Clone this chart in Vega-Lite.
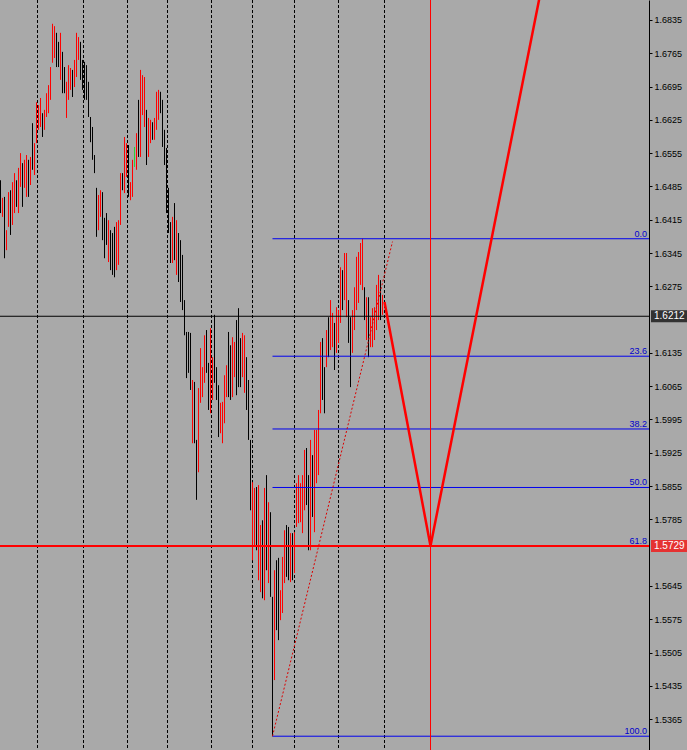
{
"$schema": "https://vega.github.io/schema/vega-lite/v6.json",
"width": 649, "height": 750,
"autosize": {"type": "none"},
"padding": {"left": 0, "top": 0, "right": 38, "bottom": 0},
"background": "#a9a9a9",
"config": {"view": {"stroke": null}, "font": "Liberation Sans", "axis": {"labelOverlap": false, "labelSeparation": 0}},
"resolve": {"scale": {"color": "independent", "strokeWidth": "independent"}, "axis": {"y": "independent", "x": "independent"}},
"datasets": {
"bars": [
{"i":0,"h":1.6498,"l":1.6429,"d":"dn"},{"i":1,"h":1.6461,"l":1.6421,"d":"up"},{"i":2,"h":1.6463,"l":1.6334,"d":"dn"},{"i":3,"h":1.6393,"l":1.6351,"d":"up"},{"i":4,"h":1.6473,"l":1.6400,"d":"up"},{"i":5,"h":1.6477,"l":1.6383,"d":"dn"},{"i":6,"h":1.6494,"l":1.6404,"d":"up"},{"i":7,"h":1.6513,"l":1.6429,"d":"up"},{"i":8,"h":1.6498,"l":1.6442,"d":"dn"},{"i":9,"h":1.6524,"l":1.6429,"d":"up"},
{"i":10,"h":1.6555,"l":1.6484,"d":"up"},{"i":11,"h":1.6534,"l":1.6442,"d":"dn"},{"i":12,"h":1.6541,"l":1.6482,"d":"up"},{"i":13,"h":1.6551,"l":1.6463,"d":"up"},{"i":14,"h":1.6541,"l":1.6463,"d":"dn"},{"i":15,"h":1.6547,"l":1.6488,"d":"up"},{"i":16,"h":1.6618,"l":1.6520,"d":"dn"},{"i":17,"h":1.6576,"l":1.6509,"d":"up"},{"i":18,"h":1.6662,"l":1.6576,"d":"up"},{"i":19,"h":1.6656,"l":1.6604,"d":"up"},
{"i":20,"h":1.6671,"l":1.6610,"d":"up"},{"i":21,"h":1.6639,"l":1.6589,"d":"dn"},{"i":22,"h":1.6646,"l":1.6604,"d":"up"},{"i":23,"h":1.6681,"l":1.6631,"d":"up"},{"i":24,"h":1.6698,"l":1.6639,"d":"up"},{"i":25,"h":1.6736,"l":1.6667,"d":"up"},{"i":26,"h":1.6827,"l":1.6745,"d":"up"},{"i":27,"h":1.6822,"l":1.6755,"d":"up"},{"i":28,"h":1.6808,"l":1.6736,"d":"dn"},{"i":29,"h":1.6789,"l":1.6736,"d":"dn"},
{"i":30,"h":1.6808,"l":1.6709,"d":"up"},{"i":31,"h":1.6768,"l":1.6681,"d":"dn"},{"i":32,"h":1.6736,"l":1.6681,"d":"dn"},{"i":33,"h":1.6705,"l":1.6629,"d":"up"},{"i":34,"h":1.6740,"l":1.6667,"d":"up"},{"i":35,"h":1.6734,"l":1.6688,"d":"up"},{"i":36,"h":1.6730,"l":1.6673,"d":"dn"},{"i":37,"h":1.6751,"l":1.6694,"d":"up"},{"i":38,"h":1.6808,"l":1.6715,"d":"up"},{"i":39,"h":1.6799,"l":1.6751,"d":"up"},
{"i":40,"h":1.6789,"l":1.6709,"d":"dn"},{"i":41,"h":1.6751,"l":1.6688,"d":"dn"},{"i":42,"h":1.6747,"l":1.6667,"d":"dn"},{"i":43,"h":1.6740,"l":1.6667,"d":"dn"},{"i":44,"h":1.6705,"l":1.6631,"d":"dn"},{"i":45,"h":1.6631,"l":1.6578,"d":"dn"},{"i":46,"h":1.6610,"l":1.6541,"d":"dn"},{"i":47,"h":1.6551,"l":1.6513,"d":"dn"},{"i":48,"h":1.6482,"l":1.6379,"d":"dn"},{"i":49,"h":1.6467,"l":1.6393,"d":"up"},
{"i":50,"h":1.6477,"l":1.6421,"d":"up"},{"i":51,"h":1.6473,"l":1.6372,"d":"dn"},{"i":52,"h":1.6419,"l":1.6334,"d":"dn"},{"i":53,"h":1.6429,"l":1.6362,"d":"dn"},{"i":54,"h":1.6414,"l":1.6326,"d":"up"},{"i":55,"h":1.6393,"l":1.6309,"d":"dn"},{"i":56,"h":1.6387,"l":1.6299,"d":"dn"},{"i":57,"h":1.6400,"l":1.6294,"d":"dn"},{"i":58,"h":1.6410,"l":1.6309,"d":"up"},{"i":59,"h":1.6414,"l":1.6320,"d":"up"},
{"i":60,"h":1.6513,"l":1.6404,"d":"up"},{"i":61,"h":1.6513,"l":1.6477,"d":"dn"},{"i":62,"h":1.6589,"l":1.6471,"d":"up"},{"i":63,"h":1.6576,"l":1.6505,"d":"up"},{"i":64,"h":1.6572,"l":1.6463,"d":"dn"},{"i":65,"h":1.6494,"l":1.6456,"d":"up"},{"i":66,"h":1.6541,"l":1.6463,"d":"up"},{"i":67,"h":1.6568,"l":1.6526,"d":"flat"},{"i":68,"h":1.6597,"l":1.6520,"d":"up"},{"i":69,"h":1.6667,"l":1.6547,"d":"dn"},
{"i":70,"h":1.6730,"l":1.6547,"d":"up"},{"i":71,"h":1.6719,"l":1.6635,"d":"up"},{"i":72,"h":1.6715,"l":1.6610,"d":"up"},{"i":73,"h":1.6646,"l":1.6530,"d":"dn"},{"i":74,"h":1.6629,"l":1.6547,"d":"up"},{"i":75,"h":1.6625,"l":1.6576,"d":"up"},{"i":76,"h":1.6620,"l":1.6583,"d":"dn"},{"i":77,"h":1.6629,"l":1.6583,"d":"up"},{"i":78,"h":1.6684,"l":1.6604,"d":"up"},{"i":79,"h":1.6688,"l":1.6625,"d":"up"},
{"i":80,"h":1.6684,"l":1.6639,"d":"dn"},{"i":81,"h":1.6667,"l":1.6568,"d":"dn"},{"i":82,"h":1.6604,"l":1.6530,"d":"dn"},{"i":83,"h":1.6566,"l":1.6429,"d":"dn"},{"i":84,"h":1.6482,"l":1.6387,"d":"dn"},{"i":85,"h":1.6410,"l":1.6324,"d":"dn"},{"i":86,"h":1.6421,"l":1.6324,"d":"up"},{"i":87,"h":1.6450,"l":1.6330,"d":"dn"},{"i":88,"h":1.6414,"l":1.6299,"d":"up"},{"i":89,"h":1.6387,"l":1.6284,"d":"dn"},
{"i":90,"h":1.6372,"l":1.6242,"d":"dn"},{"i":91,"h":1.6341,"l":1.6225,"d":"dn"},{"i":92,"h":1.6246,"l":1.6172,"d":"dn"},{"i":93,"h":1.6179,"l":1.6082,"d":"dn"},{"i":94,"h":1.6179,"l":1.6093,"d":"dn"},{"i":95,"h":1.6177,"l":1.6057,"d":"dn"},{"i":96,"h":1.6078,"l":1.5945,"d":"up"},{"i":97,"h":1.6074,"l":1.5945,"d":"dn"},{"i":98,"h":1.5952,"l":1.5826,"d":"dn"},{"i":99,"h":1.6061,"l":1.5884,"d":"up"},
{"i":100,"h":1.6145,"l":1.6030,"d":"up"},{"i":101,"h":1.6105,"l":1.6042,"d":"up"},{"i":102,"h":1.6172,"l":1.6072,"d":"up"},{"i":103,"h":1.6183,"l":1.6093,"d":"dn"},{"i":104,"h":1.6114,"l":1.6015,"d":"dn"},{"i":105,"h":1.6187,"l":1.6008,"d":"up"},{"i":106,"h":1.6126,"l":1.6036,"d":"up"},{"i":107,"h":1.6215,"l":1.6072,"d":"dn"},{"i":108,"h":1.6105,"l":1.6036,"d":"dn"},{"i":109,"h":1.6067,"l":1.5958,"d":"dn"},
{"i":110,"h":1.6030,"l":1.5966,"d":"up"},{"i":111,"h":1.6032,"l":1.5945,"d":"up"},{"i":112,"h":1.6088,"l":1.5987,"d":"up"},{"i":113,"h":1.6109,"l":1.6042,"d":"up"},{"i":114,"h":1.6179,"l":1.6042,"d":"dn"},{"i":115,"h":1.6151,"l":1.6036,"d":"dn"},{"i":116,"h":1.6168,"l":1.6042,"d":"up"},{"i":117,"h":1.6158,"l":1.6084,"d":"up"},{"i":118,"h":1.6204,"l":1.6046,"d":"dn"},{"i":119,"h":1.6229,"l":1.6063,"d":"dn"},
{"i":120,"h":1.6166,"l":1.6063,"d":"dn"},{"i":121,"h":1.6177,"l":1.6084,"d":"up"},{"i":122,"h":1.6172,"l":1.6051,"d":"up"},{"i":123,"h":1.6126,"l":1.6015,"d":"dn"},{"i":124,"h":1.6078,"l":1.5952,"d":"dn"},{"i":125,"h":1.5952,"l":1.5804,"d":"dn"},{"i":126,"h":1.5863,"l":1.5699,"d":"up"},{"i":127,"h":1.5851,"l":1.5731,"d":"up"},{"i":128,"h":1.5853,"l":1.5720,"d":"dn"},{"i":129,"h":1.5857,"l":1.5657,"d":"up"},
{"i":130,"h":1.5773,"l":1.5632,"d":"up"},{"i":131,"h":1.5783,"l":1.5619,"d":"dn"},{"i":132,"h":1.5851,"l":1.5615,"d":"up"},{"i":133,"h":1.5878,"l":1.5678,"d":"dn"},{"i":134,"h":1.5821,"l":1.5651,"d":"up"},{"i":135,"h":1.5800,"l":1.5622,"d":"dn"},{"i":136,"h":1.5622,"l":1.5329,"d":"dn"},{"i":137,"h":1.5678,"l":1.5447,"d":"up"},{"i":138,"h":1.5699,"l":1.5552,"d":"dn"},{"i":139,"h":1.5704,"l":1.5531,"d":"dn"},
{"i":140,"h":1.5636,"l":1.5573,"d":"up"},{"i":141,"h":1.5706,"l":1.5588,"d":"up"},{"i":142,"h":1.5762,"l":1.5651,"d":"up"},{"i":143,"h":1.5773,"l":1.5664,"d":"dn"},{"i":144,"h":1.5769,"l":1.5657,"d":"dn"},{"i":145,"h":1.5756,"l":1.5653,"d":"up"},{"i":146,"h":1.5756,"l":1.5657,"d":"dn"},{"i":147,"h":1.5758,"l":1.5672,"d":"up"},{"i":148,"h":1.5861,"l":1.5769,"d":"up"},{"i":149,"h":1.5878,"l":1.5777,"d":"up"},
{"i":150,"h":1.5861,"l":1.5779,"d":"up"},{"i":151,"h":1.5878,"l":1.5756,"d":"up"},{"i":152,"h":1.5931,"l":1.5804,"d":"up"},{"i":153,"h":1.5935,"l":1.5815,"d":"dn"},{"i":154,"h":1.5878,"l":1.5720,"d":"dn"},{"i":155,"h":1.5952,"l":1.5720,"d":"up"},{"i":156,"h":1.5920,"l":1.5790,"d":"dn"},{"i":157,"h":1.5973,"l":1.5758,"d":"up"},{"i":158,"h":1.5973,"l":1.5861,"d":"up"},{"i":159,"h":1.6015,"l":1.5878,"d":"up"},
{"i":160,"h":1.6158,"l":1.6008,"d":"up"},{"i":161,"h":1.6166,"l":1.6036,"d":"dn"},{"i":162,"h":1.6105,"l":1.6008,"d":"dn"},{"i":163,"h":1.6183,"l":1.6105,"d":"up"},{"i":164,"h":1.6210,"l":1.6126,"d":"dn"},{"i":165,"h":1.6246,"l":1.6141,"d":"up"},{"i":166,"h":1.6219,"l":1.6147,"d":"up"},{"i":167,"h":1.6198,"l":1.6099,"d":"dn"},{"i":168,"h":1.6231,"l":1.6135,"d":"up"},{"i":169,"h":1.6225,"l":1.6156,"d":"up"},
{"i":170,"h":1.6315,"l":1.6198,"d":"up"},{"i":171,"h":1.6309,"l":1.6225,"d":"dn"},{"i":172,"h":1.6345,"l":1.6246,"d":"up"},{"i":173,"h":1.6345,"l":1.6210,"d":"up"},{"i":174,"h":1.6246,"l":1.6156,"d":"dn"},{"i":175,"h":1.6210,"l":1.6063,"d":"dn"},{"i":176,"h":1.6225,"l":1.6135,"d":"up"},{"i":177,"h":1.6273,"l":1.6183,"d":"up"},{"i":178,"h":1.6337,"l":1.6225,"d":"up"},{"i":179,"h":1.6347,"l":1.6240,"d":"up"},
{"i":180,"h":1.6366,"l":1.6278,"d":"up"},{"i":181,"h":1.6375,"l":1.6267,"d":"up"},{"i":182,"h":1.6273,"l":1.6204,"d":"dn"},{"i":183,"h":1.6252,"l":1.6162,"d":"up"},{"i":184,"h":1.6252,"l":1.6126,"d":"dn"},{"i":185,"h":1.6210,"l":1.6147,"d":"up"},{"i":186,"h":1.6229,"l":1.6147,"d":"up"},{"i":187,"h":1.6231,"l":1.6162,"d":"up"},{"i":188,"h":1.6278,"l":1.6183,"d":"up"},{"i":189,"h":1.6299,"l":1.6204,"d":"up"},
{"i":190,"h":1.6288,"l":1.6204,"d":"dn"},{"i":191,"h":1.6257,"l":1.6215,"d":"up"}
],
"seps": [{"i":18.5},{"i":41.5},{"i":63.5},{"i":83.5},{"i":105.5},{"i":126},{"i":147},{"i":169},{"i":192}],
"target": [{"i":215}],
"fib": [
{"lvl":"0.0","p":1.6375},{"lvl":"23.6","p":1.6128},{"lvl":"38.2","p":1.5975},{"lvl":"50.0","p":1.5852},{"lvl":"61.8","p":1.5729},{"lvl":"100.0","p":1.5329}
],
"zig": [{"i":192,"p":1.6242},{"i":215,"p":1.5729},{"i":280,"p":1.7104}],
"trend": [{"i":136,"p":1.5329},{"i":196,"p":1.6369}],
"tags": [{"p":1.6212,"k":"bid","t":"1.6212"},{"p":1.5729,"k":"target","t":"1.5729"}]
},
"layer": [
{
"data": {"name": "seps"},
"mark": {"type": "rule", "color": "#000000", "strokeWidth": 1, "strokeDash": [3, 2]},
"encoding": {
"x": {"field": "i", "type": "quantitative", "scale": {"domain": [-0.25, 324.25], "nice": false, "zero": false}, "axis": null}
}
},
{
"data": {"name": "bars"},
"mark": {"type": "rule", "strokeWidth": 1},
"encoding": {
"x": {"field": "i", "type": "quantitative", "scale": {"domain": [-0.25, 324.25], "nice": false, "zero": false}, "axis": null},
"y": {"field": "h", "type": "quantitative", "scale": {"domain": [1.53, 1.6877], "nice": false, "zero": false},
"axis": {"orient": "right", "title": null, "grid": false, "format": ".4f",
"values": [1.6835,1.6765,1.6695,1.6625,1.6555,1.6485,1.6415,1.6345,1.6275,1.6135,1.6065,1.5995,1.5925,1.5855,1.5785,1.5645,1.5575,1.5505,1.5435,1.5365],
"domainColor": "#000000", "domainWidth": 1, "tickColor": "#000000", "tickSize": 3, "tickWidth": 1,
"labelColor": "#000000", "labelFont": "Liberation Sans", "labelFontSize": 9, "labelPadding": 2,
"labelAlign": "left", "labelBaseline": "middle", "labelOverlap": false, "labelSeparation": 0, "labelFlush": false, "labelBound": false}},
"y2": {"field": "l"},
"color": {"field": "d", "type": "nominal", "scale": {"domain": ["up", "dn", "flat"], "range": ["#ff0000", "#000000", "#33cc33"]}, "legend": null}
}
},
{
"data": {"name": "fib"},
"mark": {"type": "rule", "color": "#0000ee", "strokeWidth": 1},
"encoding": {
"x": {"datum": 136, "type": "quantitative", "scale": {"domain": [-0.25, 324.25], "nice": false, "zero": false}, "axis": null},
"x2": {"datum": 324.25},
"y": {"field": "p", "type": "quantitative", "scale": {"domain": [1.53, 1.6877], "nice": false, "zero": false}, "axis": null}
}
},
{
"data": {"name": "tags"},
"mark": {"type": "rule"},
"encoding": {
"y": {"field": "p", "type": "quantitative", "scale": {"domain": [1.53, 1.6877], "nice": false, "zero": false}, "axis": null},
"color": {"field": "k", "type": "nominal", "scale": {"domain": ["bid", "target"], "range": ["#000000", "#ff0000"]}, "legend": null},
"strokeWidth": {"field": "k", "type": "nominal", "scale": {"domain": ["bid", "target"], "range": [1, 2]}, "legend": null}
}
},
{
"data": {"name": "fib"},
"mark": {"type": "text", "color": "#0000cc", "font": "Liberation Sans", "fontSize": 9, "align": "right", "baseline": "alphabetic", "dx": -2, "dy": -2},
"encoding": {
"x": {"datum": 324.25, "type": "quantitative", "scale": {"domain": [-0.25, 324.25], "nice": false, "zero": false}, "axis": null},
"y": {"field": "p", "type": "quantitative", "scale": {"domain": [1.53, 1.6877], "nice": false, "zero": false}, "axis": null},
"text": {"field": "lvl"}
}
},
{
"data": {"name": "target"},
"mark": {"type": "rule", "color": "#ff0000", "strokeWidth": 1},
"encoding": {
"x": {"field": "i", "type": "quantitative", "scale": {"domain": [-0.25, 324.25], "nice": false, "zero": false}, "axis": null}
}
},
{
"data": {"name": "trend"},
"mark": {"type": "line", "color": "#dd0000", "strokeWidth": 1, "strokeDash": [2, 2]},
"encoding": {
"x": {"field": "i", "type": "quantitative", "scale": {"domain": [-0.25, 324.25], "nice": false, "zero": false}, "axis": null},
"y": {"field": "p", "type": "quantitative", "scale": {"domain": [1.53, 1.6877], "nice": false, "zero": false}, "axis": null}
}
},
{
"data": {"name": "zig"},
"mark": {"type": "line", "color": "#ff0000", "strokeWidth": 2.5, "clip": true},
"encoding": {
"x": {"field": "i", "type": "quantitative", "scale": {"domain": [-0.25, 324.25], "nice": false, "zero": false}, "axis": null},
"y": {"field": "p", "type": "quantitative", "scale": {"domain": [1.53, 1.6877], "nice": false, "zero": false}, "axis": null}
}
},
{
"data": {"name": "tags"},
"mark": {"type": "tick", "orient": "horizontal", "size": 36, "thickness": 12},
"encoding": {
"x": {"datum": 334.25, "type": "quantitative", "scale": {"domain": [-0.25, 324.25], "nice": false, "zero": false}, "axis": null},
"y": {"field": "p", "type": "quantitative", "scale": {"domain": [1.53, 1.6877], "nice": false, "zero": false}, "axis": null},
"color": {"field": "k", "type": "nominal", "scale": {"domain": ["bid", "target"], "range": ["#000000", "#ff0000"]}, "legend": null}
}
},
{
"data": {"name": "tags"},
"mark": {"type": "text", "color": "#ffffff", "font": "Liberation Sans", "fontSize": 10, "align": "left", "baseline": "middle", "dx": 3},
"encoding": {
"x": {"datum": 325.25, "type": "quantitative", "scale": {"domain": [-0.25, 324.25], "nice": false, "zero": false}, "axis": null},
"y": {"field": "p", "type": "quantitative", "scale": {"domain": [1.53, 1.6877], "nice": false, "zero": false}, "axis": null},
"text": {"field": "t"}
}
}
]
}
